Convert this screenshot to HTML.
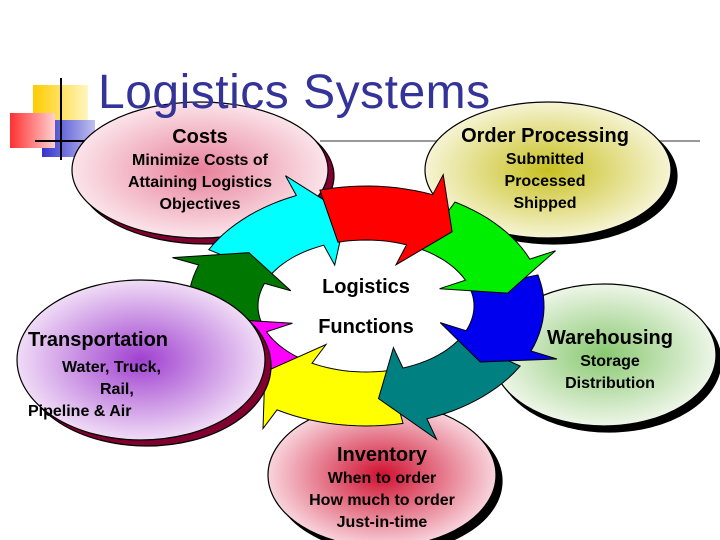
<!DOCTYPE html>
<html><head><meta charset="utf-8"><style>
body{margin:0;width:720px;height:540px;overflow:hidden;background:#fff;font-family:"Liberation Sans",sans-serif;position:relative}
.t{position:absolute;text-align:center;font-weight:bold;color:#000;line-height:22px;font-size:16px}
.h{font-size:20px;line-height:26px}
</style></head><body>
<svg width="720" height="540" style="position:absolute;left:0;top:0">
<defs>
<radialGradient id="gp"><stop offset="0" stop-color="#e8809a"/><stop offset="1" stop-color="#fbe4ea"/></radialGradient>
<radialGradient id="gy"><stop offset="0" stop-color="#c8c020"/><stop offset="1" stop-color="#f6f4d4"/></radialGradient>
<radialGradient id="gv"><stop offset="0" stop-color="#a040d0"/><stop offset="1" stop-color="#f0dcf6"/></radialGradient>
<radialGradient id="gg"><stop offset="0" stop-color="#88c870"/><stop offset="1" stop-color="#eef6e8"/></radialGradient>
<radialGradient id="gr"><stop offset="0" stop-color="#d01030"/><stop offset="1" stop-color="#f8d4dc"/></radialGradient>
<linearGradient id="ly" x1="0" x2="1"><stop offset="0" stop-color="#ffcc00"/><stop offset="1" stop-color="#fff6c0"/></linearGradient>
<linearGradient id="lr" x1="0" x2="1"><stop offset="0" stop-color="#ff3030"/><stop offset="1" stop-color="#ffd0d0"/></linearGradient>
<linearGradient id="lb" x1="0" x2="1"><stop offset="0" stop-color="#3333cc"/><stop offset="1" stop-color="#c0c0f0"/></linearGradient>
</defs>
<rect x="33" y="85" width="55" height="36" fill="url(#ly)"/>
<rect x="42" y="120" width="53" height="37" fill="url(#lb)"/>
<rect x="10" y="113" width="45" height="35" fill="url(#lr)"/>
<line x1="61" y1="78" x2="61" y2="160" stroke="#000" stroke-width="2"/>
<line x1="35" y1="141" x2="95" y2="141" stroke="#000" stroke-width="2"/>
<line x1="320" y1="141" x2="700" y2="141" stroke="#999" stroke-width="2"/>
<g stroke="#000" stroke-width="1.2">
<ellipse cx="206" cy="176" rx="128" ry="68" fill="#800030"/>
<ellipse cx="200" cy="170" rx="128" ry="68" fill="url(#gp)"/>
<ellipse cx="554" cy="176" rx="123" ry="68" fill="#000"/>
<ellipse cx="548" cy="170" rx="123" ry="68" fill="url(#gy)"/>
<ellipse cx="609" cy="361" rx="112" ry="71" fill="#000"/>
<ellipse cx="604" cy="355" rx="112" ry="71" fill="url(#gg)"/>
<ellipse cx="388" cy="481" rx="114" ry="72" fill="#000"/>
<ellipse cx="382" cy="475" rx="114" ry="72" fill="url(#gr)"/>
</g>
<text x="98" y="108" font-family="Liberation Sans" font-size="48" letter-spacing="0.5" fill="#333399">Logistics Systems</text>
<g id="ring" stroke="#000" stroke-width="1"></g>
<g stroke="#000" stroke-width="1.2">
<ellipse cx="147" cy="366" rx="124" ry="80" fill="#800030"/>
<ellipse cx="141" cy="360" rx="124" ry="80" fill="url(#gv)"/>
</g>
</svg>
<div class="t" style="left:90px;top:124px;width:220px"><div class="h">Costs</div>Minimize Costs of<br>Attaining Logistics<br>Objectives</div>
<div class="t" style="left:430px;top:123px;width:230px"><div class="h">Order Processing</div>Submitted<br>Processed<br>Shipped</div>
<div class="t" style="left:28px;top:327px;width:180px;text-align:left"><div class="h">Transportation</div></div>
<div class="t" style="left:28px;top:357px;width:200px;text-align:left"><span style="margin-left:34px">Water, Truck,</span><br><span style="margin-left:72px">Rail,</span><br>Pipeline &amp; Air</div>
<div class="t" style="left:520px;top:325px;width:180px"><div class="h">Warehousing</div>Storage<br>Distribution</div>
<div class="t" style="left:282px;top:442px;width:200px"><div class="h">Inventory</div>When to order<br>How much to order<br>Just-in-time</div>
<div class="t" style="left:296px;top:267px;width:140px;font-size:20px;line-height:40px">Logistics<br>Functions</div>
<script>
(function(){
var cx=366,cy=306,irx=108,iry=66,orx=178,ory=120;
function P(a,t){var r=a*Math.PI/180;var rx=irx+(orx-irx)*t,ry=iry+(ory-iry)*t;return (cx+rx*Math.cos(r)).toFixed(1)+","+(cy+ry*Math.sin(r)).toFixed(1);}
var segs=[[255,300,"#ff0000"],[300,345,"#00ee00"],[345,390,"#0000ee"],[30,78,"#008080"],[78,128,"#ffff00"],[128,165,"#ff00ff"],[165,208,"#007700"],[208,255,"#00ffff"]];
var order=[7,6,5,4,3,2,1,0];var g=document.getElementById("ring");var s="";
order.forEach(function(i){var a0=segs[i][0],a1=segs[i][1]-8,c=segs[i][2];var pts=[];
for(var a=a0;a<=a1;a+=3)pts.push(P(a,0.0));
pts.push(P(a1,0));pts.push(P(a1,-0.4));pts.push(P(a1+15,0.5));pts.push(P(a1,1.4));pts.push(P(a1,1));
for(var a=a1;a>=a0;a-=3)pts.push(P(a,1.0));
pts.push(P(a0,1));
s+='<polygon points="'+pts.join(" ")+'" fill="'+c+'"/>';});
g.innerHTML=s;})();
</script>
</body></html>
